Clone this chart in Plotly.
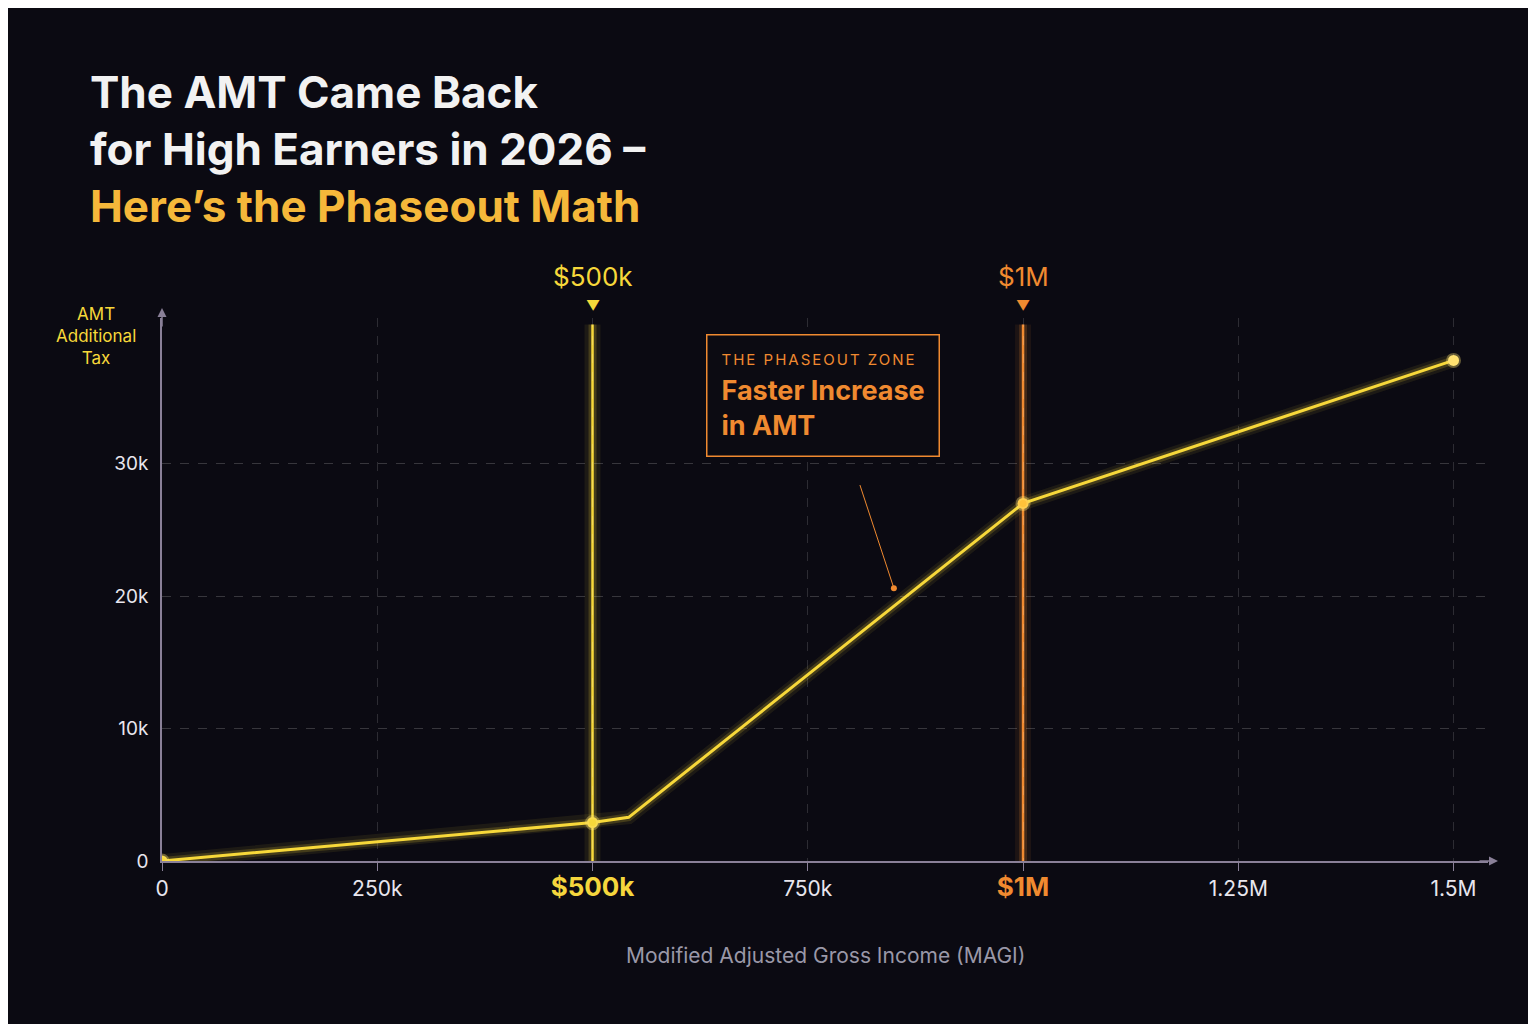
import plotly.graph_objects as go

# data
magi = [0, 500000, 542000, 1000000, 1500000]
amt = [0, 2900, 3300, 27000, 37800]
markers_x = [0, 500000, 1000000, 1500000]
markers_y = [0, 2900, 27000, 37800]
tick_vals = [0, 250000, 500000, 750000, 1000000, 1250000, 1500000]
tick_text = ["0", "250k", "<span style='color:#f5d63d;font-size:26px'><b>$500k</b></span>", "750k",
             "<span style='color:#f08a30;font-size:26px'><b>$1M</b></span>", "1.25M", "1.5M"]
y_vals = [0, 10000, 20000, 30000]
y_text = ["0", "10k", "20k", "30k"]

YEL = "#f7d83a"
ORA = "#f08a30"
FONT = "Inter"

fig = go.Figure()

# glow layers for the curve
for w, a in [(14, 0.08), (8, 0.18), (3, 1.0)]:
    fig.add_trace(go.Scatter(x=magi, y=amt, mode="lines",
                             line=dict(color=f"rgba(247,216,58,{a})", width=w),
                             hoverinfo="skip", showlegend=False))
fig.add_trace(go.Scatter(x=markers_x, y=markers_y, mode="markers",
                         marker=dict(color=["#f7d83a", "#f7d83a", "#ffc23a", "#ffe070"], size=11,
                                     line=dict(color="rgba(255,230,120,0.35)", width=4)),
                         showlegend=False))
fig.add_trace(go.Scatter(x=[850000], y=[20600], mode="markers",
                         marker=dict(color=ORA, size=6), showlegend=False))

shapes = []
for xv, col in [(500000, "247,216,58"), (1000000, "240,138,48")]:
    for w, a in [(16, 0.08), (8, 0.18), (2.5, 1.0)]:
        shapes.append(dict(type="line", x0=xv, x1=xv, y0=0, y1=40500, xref="x", yref="y",
                           line=dict(color=f"rgba({col},{a})", width=w), layer="below"))

annotations = [
    dict(text="<b>The AMT Came Back<br>for High Earners in 2026 –<br>"
              "<span style='color:#f5b83a'>Here’s the Phaseout Math</span></b>",
         x=-0.056, y=1.47, xref="paper", yref="paper", showarrow=False, align="left",
         xanchor="left", yanchor="top", font=dict(family=FONT, size=44, color="#f2f2f2")),
    dict(text="$500k", x=500000, y=1, xref="x", yref="paper", yanchor="bottom", yshift=24,
         showarrow=False, font=dict(family=FONT, size=26, color=YEL)),
    dict(text="▼", x=500000, y=1, xref="x", yref="paper", yanchor="bottom", yshift=2,
         showarrow=False, font=dict(size=14, color=YEL)),
    dict(text="$1M", x=1000000, y=1, xref="x", yref="paper", yanchor="bottom", yshift=24,
         showarrow=False, font=dict(family=FONT, size=26, color=ORA)),
    dict(text="▼", x=1000000, y=1, xref="x", yref="paper", yanchor="bottom", yshift=2,
         showarrow=False, font=dict(size=14, color=ORA)),
    dict(text="<span style='font-size:15px;letter-spacing:2px'>THE PHASEOUT ZONE</span><br>"
              "<b>Faster Increase<br>in AMT</b>",
         x=0.41, y=0.97, xref="paper", yref="paper", xanchor="left", yanchor="top",
         showarrow=False, align="left", bgcolor="#0c0b12", bordercolor=ORA, borderwidth=1.5,
         borderpad=14, font=dict(family=FONT, size=27, color=ORA)),
    dict(x=850000, y=20600, ax=810000, ay=28500, xref="x", yref="y", axref="x", ayref="y",
         showarrow=True, arrowhead=0, arrowcolor=ORA, arrowwidth=1, text=""),
    dict(text="AMT<br>Additional<br>Tax", x=-0.05, y=1.03, xref="paper", yref="paper",
         showarrow=False, font=dict(family=FONT, size=17, color=YEL), yanchor="top",
         xanchor="center"),
    dict(text="Modified Adjusted Gross Income (MAGI)", x=0.5, y=-0.2, xref="paper", yref="paper",
         showarrow=False, font=dict(family=FONT, size=21, color="#9a98a8")),
    dict(x=1, y=0, ax=-20, ay=0, xref="paper", yref="paper", showarrow=True, arrowhead=2,
         arrowcolor="#8a8098", arrowsize=1.2, arrowwidth=1.5, text="", xshift=10),
    dict(x=0, y=1, ax=0, ay=20, xref="paper", yref="paper", showarrow=True, arrowhead=2,
         arrowcolor="#8a8098", arrowsize=1.2, arrowwidth=1.5, text="", yshift=10),
]

fig.update_layout(
    width=1536, height=1024,
    paper_bgcolor="#0b0a12", plot_bgcolor="rgba(0,0,0,0)",
    margin=dict(l=154, r=56, t=310, b=171),
    font=dict(family=FONT, color="#e8e6ee"),
    shapes=shapes, annotations=annotations, showlegend=False,
    xaxis=dict(range=[0, 1540000], tickvals=tick_vals, ticktext=tick_text,
               tickfont=dict(size=21, color="#e8e6ee"), ticks="outside", ticklen=8,
               tickcolor="#8a8098", showgrid=True, gridcolor="rgba(255,255,255,0.14)",
               griddash="dash", showline=True, linecolor="#8a8098", linewidth=1.5,
               zeroline=False),
    yaxis=dict(range=[0, 41000], tickvals=y_vals, ticktext=y_text,
               tickfont=dict(size=19, color="#e8e6ee"), showgrid=True,
               gridcolor="rgba(255,255,255,0.18)", griddash="dash", showline=True,
               linecolor="#8a8098", linewidth=1.5, zeroline=False, ticklabelstandoff=8),
)

fig.write_html("out.html")
